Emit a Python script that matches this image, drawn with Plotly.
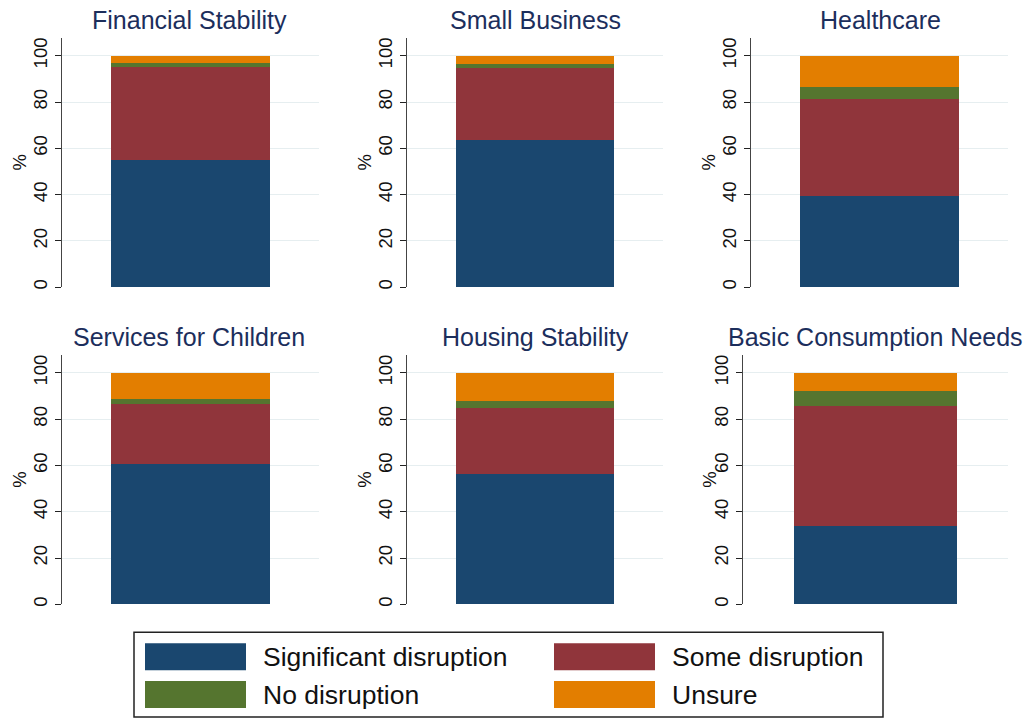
import plotly.graph_objects as go

# ---- data ----
categories = ["Financial Stability", "Small Business", "Healthcare",
              "Services for Children", "Housing Stability", "Basic Consumption Needs"]
series_names = ["Significant disruption", "Some disruption", "No disruption", "Unsure"]
significant = [54.8, 63.6, 39.3, 60.8, 56.2, 33.9]
some = [40.5, 31.2, 42.2, 25.9, 28.4, 51.9]
no_disruption = [1.7, 1.5, 5.2, 2.1, 3.3, 6.5]
unsure = [3.0, 3.7, 13.3, 11.2, 12.1, 7.7]
y_ticks = [0, 20, 40, 60, 80, 100]

series_values = [significant, some, no_disruption, unsure]
colors = ["#1a476f", "#90353b", "#55752f", "#e37e00"]

W, H = 1028, 721
FONT = "Liberation Sans, Arial, sans-serif"


def X(p):
    return p / W


def Y(p):
    return 1 - p / H


# panel pixel boxes (left, right, top, bottom)
panels = [
    (62, 319, 38, 288), (407, 663, 38, 288), (751, 1008, 38, 288),
    (62, 319, 356, 606), (407, 663, 356, 606), (743, 1008, 356, 606),
]
pct_x = [20, 365, 709, 20, 365, 710]
title_x = [189, 535, 880, 189, 535, 875]

fig = go.Figure()
annotations = []
for i, cat in enumerate(categories):
    ax = "" if i == 0 else str(i + 1)
    for s, name in enumerate(series_names):
        fig.add_trace(go.Bar(
            x=[cat], y=[series_values[s][i]], name=name,
            marker=dict(color=colors[s], line=dict(width=0)),
            width=0.615, showlegend=False,
            xaxis="x" + ax, yaxis="y" + ax,
        ))
    l, r, t, b = panels[i]
    fig.layout["xaxis" + ax] = dict(
        domain=[X(l), X(r)], anchor="y" + ax, range=[-0.5, 0.5],
        showticklabels=False, showgrid=False, zeroline=False, showline=False,
        ticks="", fixedrange=True,
    )
    fig.layout["yaxis" + ax] = dict(
        domain=[Y(b), Y(t)], anchor="x" + ax, range=[0, 107.7],
        tickvals=y_ticks, ticktext=[str(v) for v in y_ticks],
        tickangle=-90, tickfont=dict(family=FONT, size=18.5, color="#111111"),
        ticks="outside", ticklen=6, tickcolor="#222222", tickwidth=1,
        showline=True, linecolor="#444444", linewidth=1.5,
        showgrid=True, gridcolor="#e6eef0", gridwidth=1,
        zeroline=False, fixedrange=True,
    )
    annotations.append(dict(
        text=cat, x=X(title_x[i]), y=Y(t - 18), xref="paper", yref="paper",
        xanchor="center", yanchor="middle", showarrow=False,
        font=dict(family=FONT, size=25, color="#1c2e5c"),
    ))
    annotations.append(dict(
        text="%", x=X(pct_x[i]), y=Y((t + b) / 2),
        xref="paper", yref="paper", xanchor="center", yanchor="middle",
        showarrow=False, textangle=-90,
        font=dict(family=FONT, size=18.5, color="#111111"),
    ))

# ---- legend drawn as shapes + text ----
shapes = [dict(type="rect", xref="paper", yref="paper",
               x0=X(134), x1=X(883), y0=Y(719), y1=Y(634),
               line=dict(color="#222222", width=1.5), fillcolor="white", layer="below")]
leg_pos = [(145, 645), (554, 645), (145, 683), (554, 683)]
for s, name in enumerate(series_names):
    x0, y0 = leg_pos[s]
    shapes.append(dict(type="rect", xref="paper", yref="paper",
                       x0=X(x0), x1=X(x0 + 101),
                       y0=Y(y0 + 27), y1=Y(y0),
                       line=dict(width=0), fillcolor=colors[s]))
    annotations.append(dict(
        text=name, x=X(x0 + 116), y=Y(y0 + 14),
        xref="paper", yref="paper", xanchor="left", yanchor="middle",
        showarrow=False, font=dict(family=FONT, size=26.5, color="#111111"),
    ))

fig.update_layout(
    width=W, height=H, margin=dict(l=0, r=0, t=0, b=0),
    paper_bgcolor="white", plot_bgcolor="white",
    barmode="stack", bargap=0.0,
    annotations=annotations, shapes=shapes,
    font=dict(family=FONT), showlegend=False,
)

fig.write_html(
    "out.html",
    config={"displayModeBar": False, "staticPlot": True},
    post_script="document.body.style.margin='0';document.body.style.overflow='hidden';",
)
